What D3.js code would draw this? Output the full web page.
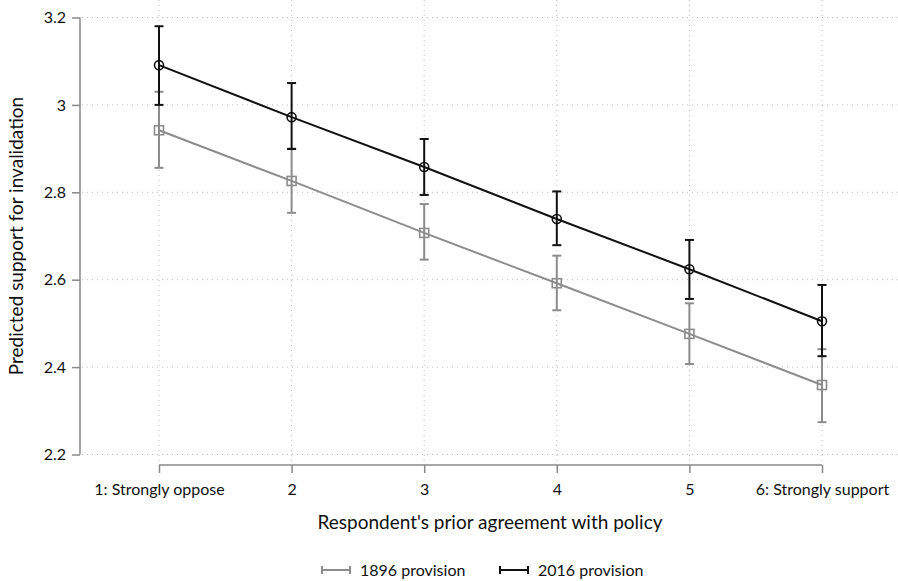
<!DOCTYPE html>
<html>
<head>
<meta charset="utf-8">
<script src="https://cdn.jsdelivr.net/npm/d3@7"></script>
<style>
  body { margin: 0; background: #fff; }
  text { font-family: "Lato", "Open Sans", sans-serif; fill: #111; }
</style>
</head>
<body>
<svg width="898" height="581"></svg>
<script>
// data
var categories = ["1: Strongly oppose", "2", "3", "4", "5", "6: Strongly support"];
var est1896 = [2.942, 2.826, 2.707, 2.592, 2.476, 2.359];
var lo1896  = [2.856, 2.753, 2.646, 2.530, 2.407, 2.274];
var hi1896  = [3.030, 2.900, 2.773, 2.655, 2.546, 2.441];
var est2016 = [3.091, 2.972, 2.858, 2.739, 2.624, 2.505];
var lo2016  = [3.000, 2.899, 2.794, 2.679, 2.556, 2.425];
var hi2016  = [3.180, 3.050, 2.922, 2.802, 2.691, 2.588];
var yTicks = [2.2, 2.4, 2.6, 2.8, 3, 3.2];

var svg = d3.select("svg");

var x = d3.scalePoint().domain(categories).range([159, 822]);
var y = d3.scaleLinear().domain([2.2, 3.2]).range([454.5, 17.5]);

// grid
svg.append("g").selectAll("line").data(yTicks).enter().append("line")
    .attr("x1", 82).attr("x2", 898)
    .attr("y1", function(d){ return y(d); }).attr("y2", function(d){ return y(d); })
    .attr("stroke", "#bbb").attr("stroke-width", 1).attr("stroke-dasharray", "1,4");
svg.append("g").selectAll("line").data(categories).enter().append("line")
    .attr("y1", 0).attr("y2", 463)
    .attr("x1", function(d){ return x(d); }).attr("x2", function(d){ return x(d); })
    .attr("stroke", "#bbb").attr("stroke-width", 1).attr("stroke-dasharray", "1,4");

// axes
var yAxis = svg.append("g").attr("transform", "translate(80,0)")
    .call(d3.axisLeft(y).tickValues(yTicks).tickFormat(d3.format("")).tickSize(8).tickPadding(6));
var xAxis = svg.append("g").attr("transform", "translate(0,465)")
    .call(d3.axisBottom(x).tickSize(8).tickPadding(11).tickSizeOuter(0));
[yAxis, xAxis].forEach(function(a){
  a.select(".domain").attr("stroke", "#888").attr("stroke-width", 1.5);
  a.selectAll(".tick line").attr("stroke", "#888").attr("stroke-width", 1.5);
  a.selectAll(".tick text").style("font-size", "16px").attr("fill", "#111");
});
yAxis.select(".domain").attr("d", "M0,17.5V454.5");
xAxis.select(".domain").attr("d", "M159,0H822");

// axis titles
svg.append("text").attr("x", 490).attr("y", 529).attr("text-anchor", "middle")
    .style("font-size", "19px").text("Respondent's prior agreement with policy");
svg.append("text").attr("transform", "translate(23,236) rotate(-90)").attr("text-anchor", "middle")
    .style("font-size", "19px").text("Predicted support for invalidation");

function series(est, lo, hi, color, shape) {
  var g = svg.append("g");
  g.append("path").datum(est)
    .attr("d", d3.line().x(function(d, i){ return x(categories[i]); }).y(function(d){ return y(d); }))
    .attr("fill", "none").attr("stroke", color).attr("stroke-width", 2);
  var bars = g.selectAll(".eb").data(est).enter().append("g");
  bars.append("line")
    .attr("x1", function(d, i){ return x(categories[i]); }).attr("x2", function(d, i){ return x(categories[i]); })
    .attr("y1", function(d, i){ return y(lo[i]); }).attr("y2", function(d, i){ return y(hi[i]); })
    .attr("stroke", color).attr("stroke-width", 2);
  [lo, hi].forEach(function(arr){
    bars.append("line")
      .attr("x1", function(d, i){ return x(categories[i]) - 4.5; }).attr("x2", function(d, i){ return x(categories[i]) + 4.5; })
      .attr("y1", function(d, i){ return y(arr[i]); }).attr("y2", function(d, i){ return y(arr[i]); })
      .attr("stroke", color).attr("stroke-width", 2);
  });
  if (shape === "circle") {
    bars.append("circle")
      .attr("cx", function(d, i){ return x(categories[i]); }).attr("cy", function(d){ return y(d); })
      .attr("r", 4.5).attr("fill", "none").attr("stroke", color).attr("stroke-width", 1.6);
  } else {
    bars.append("rect")
      .attr("x", function(d, i){ return x(categories[i]) - 4.5; }).attr("y", function(d){ return y(d) - 4.5; })
      .attr("width", 9).attr("height", 9).attr("fill", "none").attr("stroke", color).attr("stroke-width", 1.6);
  }
}
series(est1896, lo1896, hi1896, "#8c8c8c", "square");
series(est2016, lo2016, hi2016, "#111", "circle");

// legend
var legend = [["1896 provision", "#8c8c8c", 322], ["2016 provision", "#111", 500]];
legend.forEach(function(l){
  var g = svg.append("g").attr("transform", "translate(" + l[2] + ",570)");
  g.append("line").attr("x1", 0).attr("x2", 28).attr("stroke", l[1]).attr("stroke-width", 2);
  g.append("line").attr("x1", 0).attr("x2", 0).attr("y1", -4).attr("y2", 4).attr("stroke", l[1]).attr("stroke-width", 2);
  g.append("line").attr("x1", 28).attr("x2", 28).attr("y1", -4).attr("y2", 4).attr("stroke", l[1]).attr("stroke-width", 2);
  g.append("text").attr("x", 38).attr("y", 6).style("font-size", "16px").text(l[0]);
});
</script>
</body>
</html>
